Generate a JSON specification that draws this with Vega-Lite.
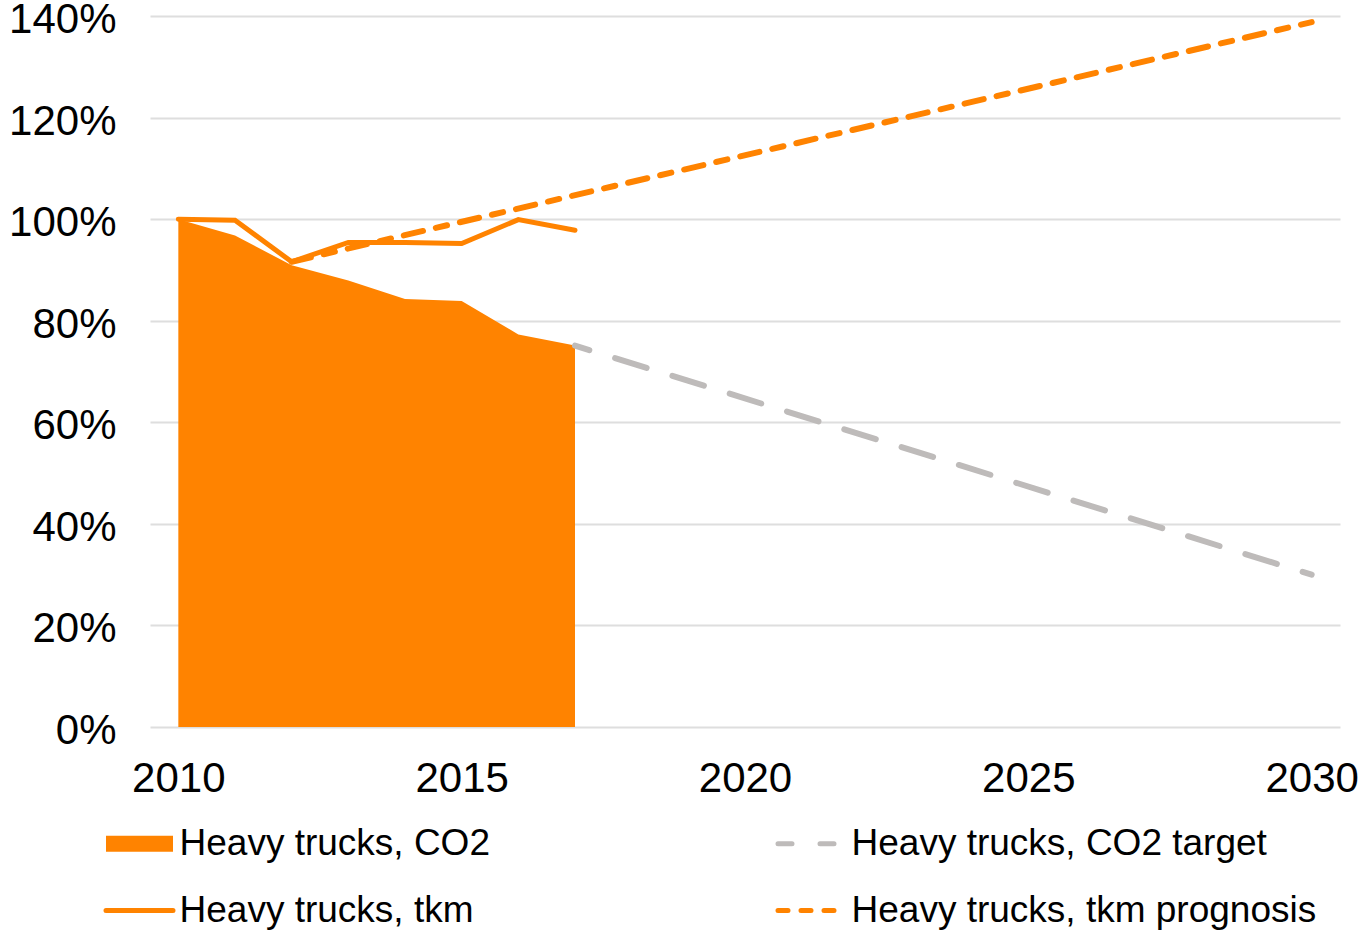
{
  "$schema": "https://vega.github.io/schema/vega-lite/v6.json",
  "width": 1190,
  "height": 711,
  "autosize": {"type": "none"},
  "padding": {"left": 150, "top": 16, "right": 23, "bottom": 206},
  "background": "white",
  "config": {
    "view": {"stroke": null},
    "font": "Liberation Sans"
  },
  "data": {
    "values": [
      {"year": 2010, "value": 100, "series": "Heavy trucks, CO2"},
      {"year": 2011, "value": 96.8, "series": "Heavy trucks, CO2"},
      {"year": 2012, "value": 90.9, "series": "Heavy trucks, CO2"},
      {"year": 2013, "value": 87.9, "series": "Heavy trucks, CO2"},
      {"year": 2014, "value": 84.3, "series": "Heavy trucks, CO2"},
      {"year": 2015, "value": 83.9, "series": "Heavy trucks, CO2"},
      {"year": 2016, "value": 77.3, "series": "Heavy trucks, CO2"},
      {"year": 2017, "value": 75.1, "series": "Heavy trucks, CO2"},
      {"year": 2010, "value": 100, "series": "Heavy trucks, tkm"},
      {"year": 2011, "value": 99.8, "series": "Heavy trucks, tkm"},
      {"year": 2012, "value": 91.6, "series": "Heavy trucks, tkm"},
      {"year": 2013, "value": 95.4, "series": "Heavy trucks, tkm"},
      {"year": 2014, "value": 95.4, "series": "Heavy trucks, tkm"},
      {"year": 2015, "value": 95.2, "series": "Heavy trucks, tkm"},
      {"year": 2016, "value": 99.9, "series": "Heavy trucks, tkm"},
      {"year": 2017, "value": 97.8, "series": "Heavy trucks, tkm"},
      {"year": 2017, "value": 75.1, "series": "Heavy trucks, CO2 target"},
      {"year": 2030, "value": 30, "series": "Heavy trucks, CO2 target"},
      {"year": 2012, "value": 91.6, "series": "Heavy trucks, tkm prognosis"},
      {"year": 2030, "value": 138.8, "series": "Heavy trucks, tkm prognosis"}
    ]
  },
  "encoding": {
    "x": {
      "field": "year",
      "type": "quantitative",
      "scale": {"domain": [2009.5, 2030.5], "nice": false, "zero": false},
      "axis": {
        "title": null,
        "values": [2010, 2015, 2020, 2025, 2030],
        "format": "d",
        "grid": false,
        "domain": false,
        "ticks": false,
        "tickSize": 0,
        "labelPadding": 31,
        "labelFlush": false,
        "labelFontSize": 42,
        "labelFont": "Liberation Sans",
        "labelColor": "#000000"
      }
    },
    "y": {
      "field": "value",
      "type": "quantitative",
      "scale": {"domain": [0, 140], "nice": false},
      "axis": {
        "title": null,
        "values": [0, 20, 40, 60, 80, 100, 120, 140],
        "labelExpr": "datum.value + '%'",
        "grid": true,
        "gridColor": "#DEDEDE",
        "gridWidth": 2,
        "domain": false,
        "ticks": false,
        "tickSize": 0,
        "labelPadding": 34,
        "labelOffset": 3.5,
        "labelFontSize": 42,
        "labelFont": "Liberation Sans",
        "labelColor": "#000000"
      }
    },
    "color": {
      "field": "series",
      "type": "nominal",
      "scale": {
        "domain": ["Heavy trucks, CO2", "Heavy trucks, tkm", "Heavy trucks, CO2 target", "Heavy trucks, tkm prognosis"],
        "range": ["#FF8300", "#FF8300", "#BEBBBA", "#FF8300"]
      },
      "legend": {
        "title": null,
        "orient": "none",
        "legendX": -29,
        "legendY": 809,
        "columns": 2,
        "columnPadding": 278,
        "rowPadding": 29,
        "padding": 0,
        "symbolSize": 4489,
        "labelFontSize": 37,
        "labelFont": "Liberation Sans",
        "labelColor": "#000000",
        "labelOffset": 21.5,
        "labelLimit": 0,
        "encode": {
          "symbols": {
            "update": {
              "shape": {"signal": "datum.value === 'Heavy trucks, CO2' ? 'M-1,-0.24H1V0.24H-1Z' : 'stroke'"},
              "fill": {"signal": "datum.value === 'Heavy trucks, CO2' ? '#FF8300' : 'transparent'"},
              "stroke": {"signal": "datum.value === 'Heavy trucks, CO2' ? 'transparent' : (datum.value === 'Heavy trucks, CO2 target' ? '#BEBBBA' : '#FF8300')"},
              "strokeWidth": {"signal": "datum.value === 'Heavy trucks, CO2' ? 0 : 5"},
              "strokeDash": {"signal": "datum.value === 'Heavy trucks, CO2 target' ? [14, 28] : (datum.value === 'Heavy trucks, tkm prognosis' ? [10, 13] : [1, 0])"},
              "strokeCap": {"value": "round"},
              "opacity": {"value": 1},
              "fillOpacity": {"value": 1},
              "strokeOpacity": {"value": 1}
            }
          }
        }
      }
    }
  },
  "layer": [
    {
      "transform": [{"filter": "datum.series === 'Heavy trucks, CO2'"}],
      "mark": {"type": "area", "opacity": 1, "line": false}
    },
    {
      "transform": [{"filter": "datum.series === 'Heavy trucks, CO2 target'"}],
      "mark": {"type": "line", "strokeWidth": 6, "strokeDash": [33, 27], "strokeDashOffset": 18, "strokeCap": "round"}
    },
    {
      "transform": [{"filter": "datum.series === 'Heavy trucks, tkm prognosis'"}],
      "mark": {"type": "line", "strokeWidth": 6, "strokeDash": [19.7, 13.2, 11.5, 13.2], "strokeCap": "round"}
    },
    {
      "transform": [{"filter": "datum.series === 'Heavy trucks, tkm'"}],
      "mark": {"type": "line", "strokeWidth": 5, "strokeCap": "round", "strokeJoin": "miter"}
    }
  ]
}
